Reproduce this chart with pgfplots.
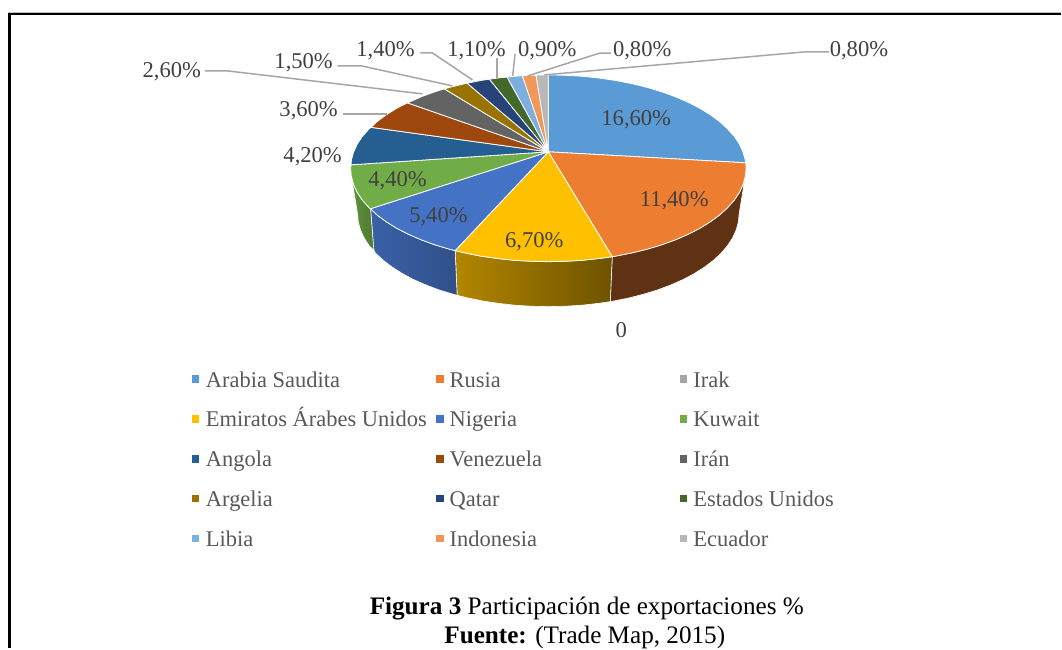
\documentclass[border=0pt]{standalone}
\usepackage{fontspec}
\setmainfont{Liberation Serif}
\usepackage{pgfplots}
\pgfplotsset{compat=1.18}
\definecolor{cSaudi}{HTML}{5B9BD5}
\definecolor{cRusia}{HTML}{ED7D31}
\definecolor{cEAU}{HTML}{FFC000}
\definecolor{cNigeria}{HTML}{4472C4}
\definecolor{cKuwait}{HTML}{70AD47}
\definecolor{cAngola}{HTML}{255E91}
\definecolor{cVenez}{HTML}{9E480E}
\definecolor{cIran}{HTML}{636363}
\definecolor{cArgelia}{HTML}{997300}
\definecolor{cQatar}{HTML}{264478}
\definecolor{cUSA}{HTML}{43682B}
\definecolor{cLibia}{HTML}{7CAFDD}
\definecolor{cIndo}{HTML}{F1975A}
\definecolor{cEcuador}{HTML}{B7B7B7}
\definecolor{cIrak}{HTML}{A5A5A5}
\definecolor{lab}{HTML}{404040}
\definecolor{leg}{HTML}{595959}
\definecolor{lead}{HTML}{A6A6A6}
\tikzset{
  top/.style={draw=white,line width=0.8pt,line join=round},
  lbl/.style={font=\fontsize{22.6}{24}\selectfont,text=lab,inner sep=0pt,anchor=center,yshift=-1.7pt},
  lgt/.style={font=\fontsize{22.5}{24}\selectfont,text=leg,inner sep=0pt,anchor=base west,yshift=-1pt},
  ldr/.style={draw=lead,line width=1.5pt},
  sq/.style={only marks,mark=square*,mark size=3.3pt}
}
\begin{document}
\begin{tikzpicture}
\begin{axis}[
  scale only axis,width=1062pt,height=649pt,
  xmin=0,xmax=1062,ymin=0,ymax=649,y dir=reverse,
  axis lines=none,clip=false]
% page area
\addplot[fill=white,draw=none] coordinates {(0,0)(1062,0)(1062,649)(0,649)} --cycle;
% frame
\addplot[draw=gray!50,line width=1pt] coordinates {(8,12.2)(1062,12.2)};
\addplot[draw=black,line width=2.6pt] coordinates {(9.5,649)(9.5,14)(1062,14)};
% sides
\addplot[fill=cRusia!40!black,draw=white,line width=0.6pt] coordinates {(746.2,176.65)(744,184.7)(740.3,192.7)(735.1,200.5)(728.4,208)(720.5,215.25)(711.2,222.1)(700.7,228.6)(689,234.6)(676.3,240.1)(662.6,245.1)(648,249.5)(632.7,253.2)(616.7,256.4)(613,257)(611,302)(614.3,301.4)(629.7,298.3)(644.5,294.5)(658.6,290.2)(671.8,285.2)(684.1,279.8)(695.3,273.8)(705.5,267.3)(714.4,260.5)(722.1,253.3)(728.5,245.8)(733.5,238.1)(737.1,230.1)(739.3,222.1)(740,214)} --cycle;
\addplot[shade,left color=cEAU!70!black,right color=cEAU!43!black,draw=white,line width=0.6pt] coordinates {(613,257)(600.2,258.8)(583.4,260.6)(566.3,261.6)(549,262)(531.7,261.6)(514.6,260.6)(497.8,258.8)(481.3,256.4)(465.3,253.2)(455.7,250.9)(457.7,295.6)(468.3,298.3)(483.7,301.4)(499.6,303.8)(515.8,305.6)(532.4,306.6)(549,307)(565.6,306.6)(582.2,305.6)(598.4,303.8)(611,302)} --cycle;
\addplot[shade,left color=cNigeria!85!black,right color=cNigeria!70!black,draw=white,line width=0.6pt] coordinates {(455.7,250.9)(450,249.5)(435.4,245.1)(421.7,240.1)(409,234.6)(397.3,228.6)(386.8,222.1)(377.5,215.25)(371,209)(374.3,250.6)(375.9,253.3)(383.6,260.5)(392.5,267.3)(402.7,273.8)(413.9,279.8)(426.2,285.2)(439.4,290.2)(453.5,294.5)(457.7,295.6)} --cycle;
\addplot[shade,left color=cKuwait!85!black,right color=cKuwait!70!black,draw=white,line width=0.6pt] coordinates {(371,209)(369.6,208)(362.9,200.5)(357.7,192.7)(354,184.7)(351.8,176.65)(358,214)(358.7,222.1)(360.9,230.1)(364.5,238.1)(369.5,245.8)(374.3,250.6)} --cycle;
% top surface
\addplot[top,fill=cSaudi] coordinates {(549,152)(549,75)(566.3,75.4)(583.4,76.4)(600.2,78.2)(616.7,80.6)(632.7,83.8)(648,87.5)(662.6,91.9)(676.3,96.9)(689,102.4)(700.7,108.4)(711.2,114.9)(720.5,121.75)(728.4,129)(735.1,136.5)(740.3,144.3)(744,152.3)(746.2,160.35)(746.7,163)} --cycle;
\addplot[top,fill=cRusia] coordinates {(549,152)(746.7,163)(747,168.5)(746.2,176.65)(744,184.7)(740.3,192.7)(735.1,200.5)(728.4,208)(720.5,215.25)(711.2,222.1)(700.7,228.6)(689,234.6)(676.3,240.1)(662.6,245.1)(648,249.5)(632.7,253.2)(616.7,256.4)(613,257)} --cycle;
\addplot[top,fill=cEAU] coordinates {(549,152)(613,257)(600.2,258.8)(583.4,260.6)(566.3,261.6)(549,262)(531.7,261.6)(514.6,260.6)(497.8,258.8)(481.3,256.4)(465.3,253.2)(455.7,250.9)} --cycle;
\addplot[top,fill=cNigeria] coordinates {(549,152)(455.7,250.9)(450,249.5)(435.4,245.1)(421.7,240.1)(409,234.6)(397.3,228.6)(386.8,222.1)(377.5,215.25)(371,209)} --cycle;
\addplot[top,fill=cKuwait] coordinates {(549,152)(371,209)(369.6,208)(362.9,200.5)(357.7,192.7)(354,184.7)(351.8,176.65)(351,168.5)(351.6,165)} --cycle;
\addplot[top,fill=cAngola] coordinates {(549,152)(351.6,165)(351.8,160.35)(354,152.3)(357.7,144.3)(362.9,136.5)(369.6,129)(371.5,127.5)} --cycle;
\addplot[top,fill=cVenez] coordinates {(549,152)(371.5,127.5)(377.5,121.75)(386.8,114.9)(397.3,108.4)(408,103)} --cycle;
\addplot[top,fill=cIran] coordinates {(549,152)(408,103)(421.7,96.9)(435.4,91.9)(445,89)} --cycle;
\addplot[top,fill=cArgelia] coordinates {(549,152)(445,89)(450,87.5)(465.3,83.8)(467.7,83.3)} --cycle;
\addplot[top,fill=cQatar] coordinates {(549,152)(467.7,83.3)(481.3,80.6)(490,79.3)} --cycle;
\addplot[top,fill=cUSA] coordinates {(549,152)(490,79.3)(497.8,78.2)(507.7,77.2)} --cycle;
\addplot[top,fill=cLibia] coordinates {(549,152)(507.7,77.2)(514.6,76.4)(523,75.8)} --cycle;
\addplot[top,fill=cIndo] coordinates {(549,152)(523,75.8)(531.7,75.4)(536.7,75.2)} --cycle;
\addplot[top,fill=cEcuador] coordinates {(549,152)(536.7,75.2)(549,75)} --cycle;
% leader lines
\addplot[ldr] coordinates {(205,71)(228,71)(423,94)};
\addplot[ldr] coordinates {(338,66)(362,66)(453,86)};
\addplot[ldr] coordinates {(343,114)(387,114)};
\addplot[ldr] coordinates {(421,53)(433,53)(473,80)};
\addplot[ldr] coordinates {(497.7,58)(497.7,78)};
\addplot[ldr] coordinates {(515.7,54)(513.3,76)};
\addplot[ldr] coordinates {(611.7,53.3)(600,53.3)(528.3,76)};
\addplot[ldr] coordinates {(830,52)(805,52)(545,75)};
% value labels
\node[lbl] at (axis cs:637,118) {16,60\%};
\node[lbl] at (axis cs:675,199) {11,40\%};
\node[lbl] at (axis cs:535,240) {6,70\%};
\node[lbl] at (axis cs:439,215) {5,40\%};
\node[lbl] at (axis cs:398,179) {4,40\%};
\node[lbl] at (axis cs:313,155) {4,20\%};
\node[lbl] at (axis cs:309,109) {3,60\%};
\node[lbl] at (axis cs:172,70) {2,60\%};
\node[lbl] at (axis cs:304,61) {1,50\%};
\node[lbl] at (axis cs:386,49) {1,40\%};
\node[lbl] at (axis cs:477,49) {1,10\%};
\node[lbl] at (axis cs:548,49) {0,90\%};
\node[lbl] at (axis cs:643,49) {0,80\%};
\node[lbl] at (axis cs:860,49) {0,80\%};
\node[lbl] at (axis cs:622,329) {0};
% legend
\addplot[sq,mark options={draw=cSaudi,fill=cSaudi}] coordinates {(195.5,379)};
\addplot[sq,mark options={draw=cRusia,fill=cRusia}] coordinates {(440,379)};
\addplot[sq,mark options={draw=cIrak,fill=cIrak}] coordinates {(684,379)};
\addplot[sq,mark options={draw=cEAU,fill=cEAU}] coordinates {(195.5,419)};
\addplot[sq,mark options={draw=cNigeria,fill=cNigeria}] coordinates {(440,419)};
\addplot[sq,mark options={draw=cKuwait,fill=cKuwait}] coordinates {(684,419)};
\addplot[sq,mark options={draw=cAngola,fill=cAngola}] coordinates {(195.5,459)};
\addplot[sq,mark options={draw=cVenez,fill=cVenez}] coordinates {(440,459)};
\addplot[sq,mark options={draw=cIran,fill=cIran}] coordinates {(684,459)};
\addplot[sq,mark options={draw=cArgelia,fill=cArgelia}] coordinates {(195.5,499)};
\addplot[sq,mark options={draw=cQatar,fill=cQatar}] coordinates {(440,499)};
\addplot[sq,mark options={draw=cUSA,fill=cUSA}] coordinates {(684,499)};
\addplot[sq,mark options={draw=cLibia,fill=cLibia}] coordinates {(195.5,539)};
\addplot[sq,mark options={draw=cIndo,fill=cIndo}] coordinates {(440,539)};
\addplot[sq,mark options={draw=cEcuador,fill=cEcuador}] coordinates {(684,539)};
\node[lgt] at (axis cs:206,387) {Arabia Saudita};
\node[lgt] at (axis cs:450,387) {Rusia};
\node[lgt] at (axis cs:694,387) {Irak};
\node[lgt] at (axis cs:206,426) {Emiratos Árabes Unidos};
\node[lgt] at (axis cs:450,426) {Nigeria};
\node[lgt] at (axis cs:694,426) {Kuwait};
\node[lgt] at (axis cs:206,466) {Angola};
\node[lgt] at (axis cs:450,466) {Venezuela};
\node[lgt] at (axis cs:694,466) {Irán};
\node[lgt] at (axis cs:206,506) {Argelia};
\node[lgt] at (axis cs:450,506) {Qatar};
\node[lgt] at (axis cs:694,506) {Estados Unidos};
\node[lgt] at (axis cs:206,546) {Libia};
\node[lgt] at (axis cs:450,546) {Indonesia};
\node[lgt] at (axis cs:694,546) {Ecuador};
% caption
\node[font=\fontsize{25.2}{26}\selectfont,inner sep=0pt,anchor=base] at (axis cs:587.5,615.5) {\textbf{Figura 3} Participación de exportaciones \%};
\node[font=\fontsize{25.2}{26}\selectfont,inner sep=0pt,anchor=base] at (axis cs:585.5,644.5) {\textbf{Fuente:} (Trade Map, 2015)};
\end{axis}
\end{tikzpicture}
\end{document}
